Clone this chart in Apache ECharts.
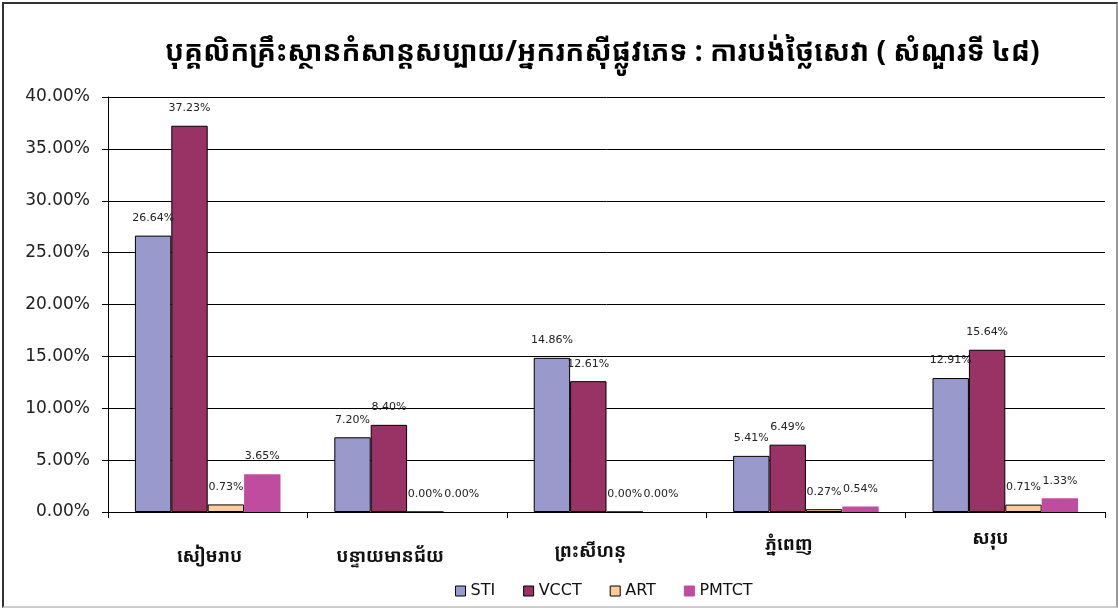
<!DOCTYPE html>
<html>
<head>
<meta charset="utf-8">
<script src="https://cdn.jsdelivr.net/npm/echarts@6/dist/echarts.min.js"></script>
<style>
  html, body { margin: 0; padding: 0; background: #fff; }
  #frame {
    position: absolute; left: 2px; top: 2px; width: 1112px; height: 602px;
    border-left: 2px solid #333; border-top: 2px solid #333;
    border-right: 2px solid #999; border-bottom: 2px solid #ccc;
  }
  #chart { position: absolute; left: 0; top: 0; width: 1118px; height: 608px; }
</style>
</head>
<body>
<div id="frame"></div>
<div id="chart"></div>
<script>
// Title and categories (Khmer)
const titleText = 'បុគ្គលិកគ្រឹះស្ថានកំសាន្តសប្បាយ/អ្នករកស៊ីផ្លូវភេទ : ការបង់ថ្លៃសេវា ( សំណួរទី ៤៨)';
const categories = ['សៀមរាប', 'បន្ទាយមានជ័យ', 'ព្រះសីហនុ', 'ភ្នំពេញ', 'សរុប'];

// Percentages by service
const seriesNames = ['STI', 'VCCT', 'ART', 'PMTCT'];
const sti   = [26.64, 7.20, 14.86, 5.41, 12.91];
const vcct  = [37.23, 8.40, 12.61, 6.49, 15.64];
const art   = [0.73, 0.00, 0.00, 0.27, 0.71];
const pmtct = [3.65, 0.00, 0.00, 0.54, 1.33];

// Y axis range (percent)
const yMin = 0, yMax = 40, yStep = 5;

const colors = ['#9999cc', '#993366', '#ffcc99', '#c04ca0'];
const khmerFont = '"Khmer OS", "Noto Sans Khmer", "Khmer OS System", "Noto Sans", sans-serif';
const latinFont = '"DejaVu Sans", Verdana, sans-serif';

const chart = echarts.init(document.getElementById('chart'));

// per-category label nudges: [top padding, right padding, left padding]
const labelPads = [[30, 0, 4], [30, 34, 0], [25, 32, 0], [18, 34, 0], [12, 30, 0]];
const rich = {};
labelPads.forEach((p, i) => {
  rich['c' + i] = {
    fontFamily: khmerFont, fontSize: 18, fontWeight: 'bold', color: '#111',
    padding: [p[0], p[1], 0, p[2]]
  };
});

function makeSeries(name, data, idx) {
  const bordered = idx < 3;
  return {
    name, type: 'bar', data,
    barGap: '0%', barCategoryGap: '27%',
    itemStyle: {
      color: colors[idx],
      borderColor: bordered ? '#000' : colors[idx],
      borderWidth: bordered ? 1 : 0
    },
    label: {
      show: true, position: 'top', distance: 12,
      fontFamily: latinFont, fontSize: 11, color: '#222',
      formatter: p => p.value.toFixed(2) + '%'
    }
  };
}

chart.setOption({
  animation: false,
  color: colors,
  title: {
    text: titleText, left: 160, top: 34,
    textStyle: { fontFamily: khmerFont, fontSize: 28, fontWeight: 'bold', color: '#000' }
  },
  legend: {
    bottom: 4, left: 450, icon: 'rect', itemWidth: 10, itemHeight: 10, itemGap: 28,
    textStyle: { fontFamily: latinFont, fontSize: 16, color: '#111' },
    data: seriesNames.map((n, i) => ({
      name: n,
      itemStyle: { borderColor: i < 3 ? '#000' : colors[i], borderWidth: 1 }
    }))
  },
  grid: { left: 108, right: 13, top: 97, bottom: 96 },
  xAxis: {
    type: 'category', data: categories,
    axisLine: { lineStyle: { color: '#000', width: 1 } },
    axisTick: { show: true, interval: 0, length: 6, lineStyle: { color: '#000' } },
    axisLabel: {
      interval: 0, margin: 6,
      formatter: (v, i) => '{c' + i + '|' + v + '}',
      rich
    }
  },
  yAxis: {
    type: 'value', min: yMin, max: yMax, interval: yStep,
    axisLine: { show: true, lineStyle: { color: '#000', width: 1 } },
    axisTick: { show: true, inside: false, length: 6, lineStyle: { color: '#000' } },
    axisLabel: {
      margin: 18, fontFamily: latinFont, fontSize: 17, color: '#222',
      formatter: v => v.toFixed(2) + '%'
    },
    splitLine: { show: true, lineStyle: { color: '#000', width: 1 } }
  },
  series: [
    makeSeries(seriesNames[0], sti, 0),
    makeSeries(seriesNames[1], vcct, 1),
    makeSeries(seriesNames[2], art, 2),
    makeSeries(seriesNames[3], pmtct, 3)
  ]
});
</script>
</body>
</html>
